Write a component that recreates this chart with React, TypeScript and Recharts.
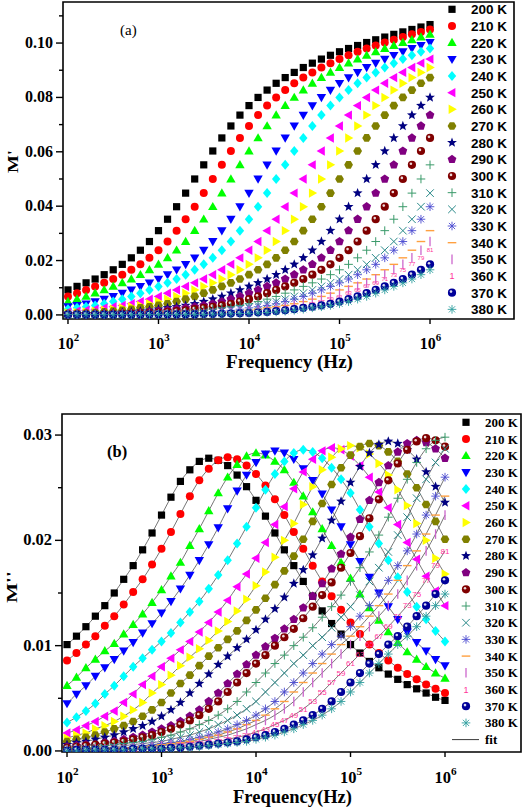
import React from 'react'
import { ComposedChart, Line, XAxis, YAxis, ReferenceArea } from 'recharts'

const SERIF = '"Liberation Serif", "Times New Roman", Times, serif'
const SANS = '"Liberation Sans", Arial, Helvetica, sans-serif'

// frequency grid in Hz, 10 points per decade
const freq = [
  100, 125.9, 158.5, 199.5, 251.2, 316.2, 398.1, 501.2, 631, 794.3,
  1000, 1259, 1585, 1995, 2512, 3162, 3981, 5012, 6310, 7943,
  10000, 12589, 15849, 19953, 25119, 31623, 39811, 50119, 63096, 79433,
  100000, 125893, 158489, 199526, 251189, 316228, 398107, 501187, 630957, 794328,
  1000000,
]

const temps = [
  '200 K', '210 K', '220 K', '230 K', '240 K', '250 K', '260 K', '270 K', '280 K', '290 K',
  '300 K', '310 K', '320 K', '330 K', '340 K', '350 K', '360 K', '370 K', '380 K',
]

const decadeTicks = [1e2, 1e3, 1e4, 1e5, 1e6]
const yTicksA = [0, 0.01, 0.02, 0.03, 0.04, 0.05, 0.06, 0.07, 0.08, 0.09, 0.1, 0.11]
const yTicksB = [0, 0.005, 0.01, 0.015, 0.02, 0.025, 0.03]

// (a) M'
const mr200 = [0.0092, 0.0105, 0.0118, 0.0132, 0.0148, 0.0166, 0.0186, 0.021, 0.0238, 0.027, 0.031, 0.0352, 0.0398, 0.0448, 0.05, 0.0552, 0.0603, 0.0651, 0.0695, 0.0735, 0.077, 0.08, 0.0827, 0.0852, 0.0873, 0.0892, 0.091, 0.0926, 0.0941, 0.0955, 0.0968, 0.098, 0.0991, 0.1002, 0.1012, 0.1022, 0.1032, 0.1041, 0.105, 0.1059, 0.1068]
const mr210 = [0.0068, 0.008, 0.0092, 0.0105, 0.0118, 0.0132, 0.0148, 0.0166, 0.0186, 0.021, 0.0238, 0.027, 0.031, 0.0352, 0.0398, 0.0448, 0.05, 0.0552, 0.0603, 0.0651, 0.0695, 0.0735, 0.077, 0.08, 0.0827, 0.0852, 0.0873, 0.0892, 0.091, 0.0926, 0.0941, 0.0955, 0.0968, 0.098, 0.0991, 0.1002, 0.1012, 0.1022, 0.1032, 0.1041, 0.105]
const mr220 = [0.0049, 0.0058, 0.0068, 0.008, 0.0092, 0.0105, 0.0118, 0.0132, 0.0148, 0.0166, 0.0186, 0.021, 0.0238, 0.027, 0.031, 0.0352, 0.0398, 0.0448, 0.05, 0.0552, 0.0603, 0.0651, 0.0695, 0.0735, 0.077, 0.08, 0.0827, 0.0852, 0.0873, 0.0892, 0.091, 0.0926, 0.0941, 0.0955, 0.0968, 0.098, 0.0991, 0.1002, 0.1012, 0.1022, 0.1032]
const mr230 = [0.003, 0.0035, 0.0041, 0.0049, 0.0058, 0.0068, 0.008, 0.0092, 0.0105, 0.0118, 0.0132, 0.0148, 0.0166, 0.0186, 0.021, 0.0238, 0.027, 0.031, 0.0352, 0.0398, 0.0448, 0.05, 0.0552, 0.0603, 0.0651, 0.0695, 0.0735, 0.077, 0.08, 0.0827, 0.0852, 0.0873, 0.0892, 0.091, 0.0926, 0.0941, 0.0955, 0.0968, 0.098, 0.0991, 0.1002]
const mr240 = [0.0021, 0.0026, 0.003, 0.0035, 0.0041, 0.0049, 0.0058, 0.0068, 0.008, 0.0092, 0.0105, 0.0118, 0.0132, 0.0148, 0.0166, 0.0186, 0.021, 0.0238, 0.027, 0.031, 0.0352, 0.0398, 0.0448, 0.05, 0.0552, 0.0603, 0.0651, 0.0695, 0.0735, 0.077, 0.08, 0.0827, 0.0852, 0.0873, 0.0892, 0.091, 0.0926, 0.0941, 0.0955, 0.0968, 0.098]
const mr250 = [0.0011, 0.0014, 0.0017, 0.0021, 0.0026, 0.003, 0.0035, 0.0041, 0.0049, 0.0058, 0.0068, 0.008, 0.0092, 0.0105, 0.0118, 0.0132, 0.0148, 0.0166, 0.0186, 0.021, 0.0238, 0.027, 0.031, 0.0352, 0.0398, 0.0448, 0.05, 0.0552, 0.0603, 0.0651, 0.0695, 0.0735, 0.077, 0.08, 0.0827, 0.0852, 0.0873, 0.0892, 0.091, 0.0926, 0.0941]
const mr260 = [0.0007, 0.0009, 0.0011, 0.0014, 0.0017, 0.0021, 0.0026, 0.003, 0.0035, 0.0041, 0.0049, 0.0058, 0.0068, 0.008, 0.0092, 0.0105, 0.0118, 0.0132, 0.0148, 0.0166, 0.0186, 0.021, 0.0238, 0.027, 0.031, 0.0352, 0.0398, 0.0448, 0.05, 0.0552, 0.0603, 0.0651, 0.0695, 0.0735, 0.077, 0.08, 0.0827, 0.0852, 0.0873, 0.0892, 0.091]
const mr270 = [0.0005, 0.0006, 0.0007, 0.0009, 0.0011, 0.0014, 0.0017, 0.0021, 0.0026, 0.003, 0.0035, 0.0041, 0.0049, 0.0058, 0.0068, 0.008, 0.0092, 0.0105, 0.0118, 0.0132, 0.0148, 0.0166, 0.0186, 0.021, 0.0238, 0.027, 0.031, 0.0352, 0.0398, 0.0448, 0.05, 0.0552, 0.0603, 0.0651, 0.0695, 0.0735, 0.077, 0.08, 0.0827, 0.0852, 0.0873]
const mr280 = [0.0003, 0.0003, 0.0004, 0.0005, 0.0006, 0.0007, 0.0009, 0.0011, 0.0014, 0.0017, 0.0021, 0.0026, 0.003, 0.0035, 0.0041, 0.0049, 0.0058, 0.0068, 0.008, 0.0092, 0.0105, 0.0118, 0.0132, 0.0148, 0.0166, 0.0186, 0.021, 0.0238, 0.027, 0.031, 0.0352, 0.0398, 0.0448, 0.05, 0.0552, 0.0603, 0.0651, 0.0695, 0.0735, 0.077, 0.08]
const mr290 = [0.0002, 0.0002, 0.0003, 0.0003, 0.0004, 0.0005, 0.0006, 0.0007, 0.0009, 0.0011, 0.0014, 0.0017, 0.0021, 0.0026, 0.003, 0.0035, 0.0041, 0.0049, 0.0058, 0.0068, 0.008, 0.0092, 0.0105, 0.0118, 0.0132, 0.0148, 0.0166, 0.0186, 0.021, 0.0238, 0.027, 0.031, 0.0352, 0.0398, 0.0448, 0.05, 0.0552, 0.0603, 0.0651, 0.0695, 0.0735]
const mr300 = [0.0002, 0.0002, 0.0002, 0.0002, 0.0003, 0.0003, 0.0004, 0.0005, 0.0006, 0.0007, 0.0009, 0.0011, 0.0014, 0.0017, 0.0021, 0.0026, 0.003, 0.0035, 0.0041, 0.0049, 0.0058, 0.0068, 0.008, 0.0092, 0.0105, 0.0118, 0.0132, 0.0148, 0.0166, 0.0186, 0.021, 0.0238, 0.027, 0.031, 0.0352, 0.0398, 0.0448, 0.05, 0.0552, 0.0603, 0.0651]
const mr310 = [0.0002, 0.0002, 0.0002, 0.0002, 0.0002, 0.0002, 0.0003, 0.0003, 0.0004, 0.0005, 0.0006, 0.0007, 0.0009, 0.0011, 0.0014, 0.0017, 0.0021, 0.0026, 0.003, 0.0035, 0.0041, 0.0049, 0.0058, 0.0068, 0.008, 0.0092, 0.0105, 0.0118, 0.0132, 0.0148, 0.0166, 0.0186, 0.021, 0.0238, 0.027, 0.031, 0.0352, 0.0398, 0.0448, 0.05, 0.0552]
const mr320 = [0.0001, 0.0001, 0.0002, 0.0002, 0.0002, 0.0002, 0.0002, 0.0002, 0.0003, 0.0003, 0.0004, 0.0005, 0.0006, 0.0007, 0.0009, 0.0011, 0.0014, 0.0017, 0.0021, 0.0026, 0.003, 0.0035, 0.0041, 0.0049, 0.0058, 0.0068, 0.008, 0.0092, 0.0105, 0.0118, 0.0132, 0.0148, 0.0166, 0.0186, 0.021, 0.0238, 0.027, 0.031, 0.0352, 0.0398, 0.0448]
const mr330 = [0.0001, 0.0001, 0.0001, 0.0002, 0.0002, 0.0002, 0.0002, 0.0002, 0.0002, 0.0003, 0.0003, 0.0004, 0.0005, 0.0006, 0.0007, 0.0009, 0.0011, 0.0014, 0.0017, 0.0021, 0.0026, 0.003, 0.0035, 0.0041, 0.0049, 0.0058, 0.0068, 0.008, 0.0092, 0.0105, 0.0118, 0.0132, 0.0148, 0.0166, 0.0186, 0.021, 0.0238, 0.027, 0.031, 0.0352, 0.0398]
const mr340 = [0.0001, 0.0001, 0.0001, 0.0001, 0.0001, 0.0002, 0.0002, 0.0002, 0.0002, 0.0002, 0.0002, 0.0003, 0.0003, 0.0004, 0.0005, 0.0006, 0.0007, 0.0009, 0.0011, 0.0014, 0.0017, 0.0021, 0.0026, 0.003, 0.0035, 0.0041, 0.0049, 0.0058, 0.0068, 0.008, 0.0092, 0.0105, 0.0118, 0.0132, 0.0148, 0.0166, 0.0186, 0.021, 0.0238, 0.027, 0.031]
const mr350 = [0.0001, 0.0001, 0.0001, 0.0001, 0.0001, 0.0001, 0.0002, 0.0002, 0.0002, 0.0002, 0.0002, 0.0002, 0.0003, 0.0003, 0.0004, 0.0005, 0.0006, 0.0007, 0.0009, 0.0011, 0.0014, 0.0017, 0.0021, 0.0026, 0.003, 0.0035, 0.0041, 0.0049, 0.0058, 0.0068, 0.008, 0.0092, 0.0105, 0.0118, 0.0132, 0.0148, 0.0166, 0.0186, 0.021, 0.0238, 0.027]
const mr360 = [0.0001, 0.0001, 0.0001, 0.0001, 0.0001, 0.0001, 0.0001, 0.0002, 0.0002, 0.0002, 0.0002, 0.0002, 0.0002, 0.0003, 0.0003, 0.0004, 0.0005, 0.0006, 0.0007, 0.0009, 0.0011, 0.0014, 0.0017, 0.0021, 0.0026, 0.003, 0.0035, 0.0041, 0.0049, 0.0058, 0.0068, 0.008, 0.0092, 0.0105, 0.0118, 0.0132, 0.0148, 0.0166, 0.0186, 0.021, 0.0238]
const mr370 = [0.0001, 0.0001, 0.0001, 0.0001, 0.0001, 0.0001, 0.0001, 0.0001, 0.0001, 0.0002, 0.0002, 0.0002, 0.0002, 0.0002, 0.0002, 0.0003, 0.0003, 0.0004, 0.0005, 0.0006, 0.0007, 0.0009, 0.0011, 0.0014, 0.0017, 0.0021, 0.0026, 0.003, 0.0035, 0.0041, 0.0049, 0.0058, 0.0068, 0.008, 0.0092, 0.0105, 0.0118, 0.0132, 0.0148, 0.0166, 0.0186]
const mr380 = [0.0001, 0.0001, 0.0001, 0.0001, 0.0001, 0.0001, 0.0001, 0.0001, 0.0001, 0.0001, 0.0002, 0.0002, 0.0002, 0.0002, 0.0002, 0.0002, 0.0003, 0.0003, 0.0004, 0.0005, 0.0006, 0.0007, 0.0009, 0.0011, 0.0014, 0.0017, 0.0021, 0.0026, 0.003, 0.0035, 0.0041, 0.0049, 0.0058, 0.0068, 0.008, 0.0092, 0.0105, 0.0118, 0.0132, 0.0148, 0.0166]

// (b) M''
const mi200 = [0.0101, 0.0109, 0.0118, 0.0128, 0.0138, 0.015, 0.0163, 0.0176, 0.0191, 0.0207, 0.0224, 0.0241, 0.0256, 0.0267, 0.0275, 0.0278, 0.0276, 0.0271, 0.0262, 0.0251, 0.0238, 0.0223, 0.0207, 0.0191, 0.0176, 0.0161, 0.0147, 0.0133, 0.0121, 0.0111, 0.0101, 0.0093, 0.0085, 0.0079, 0.0073, 0.0068, 0.0063, 0.0059, 0.0055, 0.0051, 0.0048]
const mi210 = [0.0086, 0.0093, 0.0101, 0.0109, 0.0119, 0.0128, 0.0139, 0.0151, 0.0163, 0.0177, 0.0192, 0.0208, 0.0225, 0.0242, 0.0257, 0.0268, 0.0276, 0.0279, 0.0277, 0.0271, 0.0263, 0.0252, 0.0239, 0.0224, 0.0208, 0.0192, 0.0176, 0.0161, 0.0147, 0.0134, 0.0122, 0.0111, 0.0101, 0.0093, 0.0086, 0.0079, 0.0073, 0.0068, 0.0063, 0.0059, 0.0055]
const mi220 = [0.0062, 0.007, 0.0079, 0.0087, 0.0095, 0.0102, 0.0111, 0.012, 0.013, 0.0141, 0.0153, 0.0166, 0.0179, 0.0195, 0.0211, 0.0228, 0.0245, 0.026, 0.0272, 0.028, 0.0283, 0.0281, 0.0275, 0.0267, 0.0255, 0.0242, 0.0227, 0.0211, 0.0195, 0.0179, 0.0164, 0.0149, 0.0136, 0.0124, 0.0113, 0.0103, 0.0094, 0.0087, 0.008, 0.0074, 0.0069]
const mi230 = [0.0045, 0.0054, 0.0062, 0.0071, 0.0079, 0.0087, 0.0095, 0.0103, 0.0112, 0.0121, 0.0131, 0.0142, 0.0154, 0.0167, 0.0181, 0.0196, 0.0212, 0.023, 0.0247, 0.0262, 0.0274, 0.0282, 0.0285, 0.0283, 0.0277, 0.0268, 0.0257, 0.0244, 0.0229, 0.0213, 0.0196, 0.018, 0.0165, 0.015, 0.0137, 0.0125, 0.0113, 0.0103, 0.0095, 0.0087, 0.0081]
const mi240 = [0.0027, 0.0032, 0.0038, 0.0045, 0.0054, 0.0062, 0.0071, 0.008, 0.0088, 0.0096, 0.0104, 0.0112, 0.0122, 0.0132, 0.0142, 0.0154, 0.0167, 0.0181, 0.0197, 0.0213, 0.0231, 0.0248, 0.0263, 0.0275, 0.0283, 0.0286, 0.0284, 0.0278, 0.0269, 0.0258, 0.0245, 0.0229, 0.0213, 0.0197, 0.0181, 0.0165, 0.0151, 0.0137, 0.0125, 0.0114, 0.0104]
const mi250 = [0.0017, 0.002, 0.0024, 0.0028, 0.0033, 0.0038, 0.0046, 0.0054, 0.0063, 0.0071, 0.008, 0.0088, 0.0096, 0.0104, 0.0113, 0.0122, 0.0132, 0.0143, 0.0156, 0.0168, 0.0183, 0.0198, 0.0215, 0.0232, 0.0249, 0.0265, 0.0277, 0.0285, 0.0288, 0.0286, 0.028, 0.0271, 0.026, 0.0246, 0.0231, 0.0215, 0.0198, 0.0182, 0.0166, 0.0152, 0.0138]
const mi260 = [0.0012, 0.0015, 0.0017, 0.0021, 0.0024, 0.0028, 0.0033, 0.0039, 0.0046, 0.0055, 0.0063, 0.0072, 0.0081, 0.0089, 0.0097, 0.0105, 0.0114, 0.0123, 0.0133, 0.0144, 0.0157, 0.017, 0.0184, 0.02, 0.0216, 0.0234, 0.0251, 0.0267, 0.0279, 0.0287, 0.029, 0.0288, 0.0282, 0.0273, 0.0262, 0.0248, 0.0233, 0.0216, 0.02, 0.0183, 0.0168]
const mi270 = [0.0009, 0.0011, 0.0013, 0.0015, 0.0018, 0.0021, 0.0024, 0.0028, 0.0033, 0.0039, 0.0046, 0.0055, 0.0064, 0.0072, 0.0081, 0.009, 0.0098, 0.0106, 0.0114, 0.0124, 0.0134, 0.0145, 0.0158, 0.0171, 0.0185, 0.0201, 0.0218, 0.0235, 0.0253, 0.0269, 0.0281, 0.0289, 0.0292, 0.029, 0.0284, 0.0275, 0.0263, 0.025, 0.0234, 0.0218, 0.0201]
const mi280 = [0.0006, 0.0008, 0.0009, 0.0011, 0.0013, 0.0015, 0.0018, 0.0021, 0.0024, 0.0028, 0.0033, 0.0039, 0.0046, 0.0055, 0.0064, 0.0073, 0.0082, 0.009, 0.0098, 0.0106, 0.0115, 0.0125, 0.0135, 0.0146, 0.0159, 0.0172, 0.0186, 0.0202, 0.0219, 0.0237, 0.0255, 0.027, 0.0283, 0.0291, 0.0294, 0.0292, 0.0286, 0.0277, 0.0265, 0.0251, 0.0236]
const mi290 = [0.0004, 0.0005, 0.0006, 0.0006, 0.0008, 0.0009, 0.0011, 0.0013, 0.0015, 0.0018, 0.0021, 0.0024, 0.0028, 0.0033, 0.0039, 0.0047, 0.0055, 0.0064, 0.0073, 0.0082, 0.0091, 0.0099, 0.0107, 0.0116, 0.0125, 0.0136, 0.0147, 0.0159, 0.0173, 0.0187, 0.0203, 0.022, 0.0238, 0.0255, 0.0271, 0.0284, 0.0292, 0.0295, 0.0293, 0.0287, 0.0278]
const mi300 = [0.0003, 0.0004, 0.0005, 0.0006, 0.0007, 0.0008, 0.0009, 0.0011, 0.0013, 0.0015, 0.0018, 0.0021, 0.0025, 0.0029, 0.0034, 0.004, 0.0047, 0.0056, 0.0065, 0.0074, 0.0083, 0.0091, 0.01, 0.0108, 0.0116, 0.0126, 0.0137, 0.0148, 0.016, 0.0174, 0.0188, 0.0204, 0.0221, 0.0239, 0.0257, 0.0273, 0.0286, 0.0294, 0.0297, 0.0295, 0.0289]
const mi310 = [0.0002, 0.0003, 0.0003, 0.0004, 0.0005, 0.0006, 0.0007, 0.0008, 0.0009, 0.0011, 0.0013, 0.0015, 0.0018, 0.0021, 0.0025, 0.0029, 0.0034, 0.004, 0.0047, 0.0056, 0.0065, 0.0074, 0.0083, 0.0091, 0.01, 0.0108, 0.0117, 0.0127, 0.0137, 0.0148, 0.0161, 0.0174, 0.0189, 0.0205, 0.0222, 0.024, 0.0258, 0.0274, 0.0287, 0.0295, 0.0298]
const mi320 = [0.0002, 0.0002, 0.0002, 0.0003, 0.0003, 0.0004, 0.0005, 0.0006, 0.0007, 0.0008, 0.0009, 0.0011, 0.0013, 0.0015, 0.0018, 0.0021, 0.0025, 0.0029, 0.0034, 0.004, 0.0047, 0.0056, 0.0065, 0.0074, 0.0083, 0.0091, 0.01, 0.0108, 0.0117, 0.0127, 0.0137, 0.0148, 0.0161, 0.0174, 0.0189, 0.0205, 0.0222, 0.024, 0.0258, 0.0274, 0.0287]
const mi330 = [0.0001, 0.0002, 0.0002, 0.0002, 0.0002, 0.0003, 0.0003, 0.0004, 0.0005, 0.0006, 0.0007, 0.0008, 0.0009, 0.0011, 0.0013, 0.0015, 0.0018, 0.0021, 0.0025, 0.0029, 0.0034, 0.004, 0.0047, 0.0056, 0.0065, 0.0074, 0.0083, 0.0092, 0.0101, 0.0109, 0.0118, 0.0128, 0.0138, 0.0149, 0.0162, 0.0176, 0.019, 0.0206, 0.0224, 0.0242, 0.026]
const mi340 = [0.0001, 0.0001, 0.0002, 0.0002, 0.0002, 0.0002, 0.0003, 0.0003, 0.0004, 0.0005, 0.0006, 0.0007, 0.0008, 0.0009, 0.0011, 0.0013, 0.0015, 0.0018, 0.0021, 0.0025, 0.0029, 0.0034, 0.004, 0.0047, 0.0056, 0.0065, 0.0074, 0.0083, 0.0092, 0.0101, 0.0109, 0.0118, 0.0128, 0.0138, 0.0149, 0.0162, 0.0176, 0.019, 0.0206, 0.0224, 0.0242]
const mi350 = [0.0001, 0.0001, 0.0001, 0.0002, 0.0002, 0.0002, 0.0002, 0.0003, 0.0003, 0.0004, 0.0005, 0.0006, 0.0007, 0.0008, 0.0009, 0.0011, 0.0013, 0.0015, 0.0018, 0.0021, 0.0025, 0.0029, 0.0034, 0.004, 0.0047, 0.0056, 0.0065, 0.0074, 0.0083, 0.0092, 0.0101, 0.0109, 0.0118, 0.0128, 0.0138, 0.0149, 0.0162, 0.0176, 0.019, 0.0206, 0.0224]
const mi360 = [0.0001, 0.0001, 0.0001, 0.0001, 0.0001, 0.0002, 0.0002, 0.0002, 0.0002, 0.0003, 0.0003, 0.0004, 0.0005, 0.0006, 0.0007, 0.0008, 0.0009, 0.0011, 0.0013, 0.0015, 0.0018, 0.0021, 0.0025, 0.0029, 0.0034, 0.004, 0.0047, 0.0056, 0.0065, 0.0074, 0.0083, 0.0092, 0.0101, 0.0109, 0.0118, 0.0128, 0.0138, 0.0149, 0.0162, 0.0176, 0.019]
const mi370 = [0, 0.0001, 0.0001, 0.0001, 0.0001, 0.0001, 0.0001, 0.0002, 0.0002, 0.0002, 0.0002, 0.0003, 0.0003, 0.0004, 0.0005, 0.0006, 0.0007, 0.0008, 0.0009, 0.0011, 0.0013, 0.0015, 0.0018, 0.0021, 0.0025, 0.0029, 0.0034, 0.004, 0.0047, 0.0056, 0.0065, 0.0074, 0.0083, 0.0092, 0.0101, 0.0109, 0.0118, 0.0128, 0.0138, 0.0149, 0.0162]
const mi380 = [0, 0, 0.0001, 0.0001, 0.0001, 0.0001, 0.0001, 0.0001, 0.0002, 0.0002, 0.0002, 0.0002, 0.0003, 0.0003, 0.0004, 0.0005, 0.0006, 0.0007, 0.0008, 0.0009, 0.0011, 0.0013, 0.0015, 0.0018, 0.0021, 0.0025, 0.0029, 0.0034, 0.004, 0.0047, 0.0056, 0.0065, 0.0074, 0.0083, 0.0092, 0.0101, 0.0109, 0.0118, 0.0128, 0.0138, 0.0149]

const realSets = [mr200, mr210, mr220, mr230, mr240, mr250, mr260, mr270, mr280, mr290, mr300, mr310, mr320, mr330, mr340, mr350, mr360, mr370, mr380]
const imagSets = [mi200, mi210, mi220, mi230, mi240, mi250, mi260, mi270, mi280, mi290, mi300, mi310, mi320, mi330, mi340, mi350, mi360, mi370, mi380]

type Kind =
  | 'square' | 'circle' | 'up' | 'down' | 'diamond' | 'left' | 'right' | 'hex' | 'star' | 'pent'
  | 'ball' | 'plus' | 'cross' | 'aster' | 'dash' | 'bar' | 'num'

const markers: { kind: Kind; color: string }[] = [
  { kind: 'square', color: '#000000' },
  { kind: 'circle', color: '#ff0000' },
  { kind: 'up', color: '#00ff00' },
  { kind: 'down', color: '#0000ff' },
  { kind: 'diamond', color: '#00ffff' },
  { kind: 'left', color: '#ff00ff' },
  { kind: 'right', color: '#ffff00' },
  { kind: 'hex', color: '#808000' },
  { kind: 'star', color: '#000080' },
  { kind: 'pent', color: '#800080' },
  { kind: 'ball', color: '#800000' },
  { kind: 'plus', color: '#3a9a6a' },
  { kind: 'cross', color: '#2a8a8a' },
  { kind: 'aster', color: '#4a4ad0' },
  { kind: 'dash', color: '#ffa040' },
  { kind: 'bar', color: '#cc66cc' },
  { kind: 'num', color: '#ff3399' },
  { kind: 'ball', color: '#000099' },
  { kind: 'aster', color: '#2f9f9f' },
]

function ngon(cx: number, cy: number, r: number, n: number, rot = -90, inner = 0) {
  const count = inner ? n * 2 : n
  const pts: string[] = []
  for (let i = 0; i < count; i++) {
    const rr = inner && i % 2 ? inner : r
    const a = ((rot + (360 / count) * i) * Math.PI) / 180
    pts.push(`${(cx + rr * Math.cos(a)).toFixed(2)},${(cy + rr * Math.sin(a)).toFixed(2)}`)
  }
  return pts.join(' ')
}

function Marker({ cx, cy, kind, color, label, numSize = 8 }: {
  cx?: number; cy?: number; kind: Kind; color: string; label?: string; numSize?: number
}) {
  if (cx == null || cy == null || isNaN(cx) || isNaN(cy)) return null
  switch (kind) {
    case 'square':
      return <rect x={cx - 3.6} y={cy - 3.6} width={7.2} height={7.2} fill={color} />
    case 'circle':
      return <circle cx={cx} cy={cy} r={4} fill={color} />
    case 'up':
      return <polygon points={`${cx},${cy - 4.8} ${cx + 4.7},${cy + 3.4} ${cx - 4.7},${cy + 3.4}`} fill={color} />
    case 'down':
      return <polygon points={`${cx},${cy + 4.8} ${cx + 4.7},${cy - 3.4} ${cx - 4.7},${cy - 3.4}`} fill={color} />
    case 'diamond':
      return <polygon points={`${cx},${cy - 5} ${cx + 4.2},${cy} ${cx},${cy + 5} ${cx - 4.2},${cy}`} fill={color} />
    case 'left':
      return <polygon points={`${cx - 4.8},${cy} ${cx + 3.4},${cy - 4.7} ${cx + 3.4},${cy + 4.7}`} fill={color} />
    case 'right':
      return <polygon points={`${cx + 4.8},${cy} ${cx - 3.4},${cy - 4.7} ${cx - 3.4},${cy + 4.7}`} fill={color} />
    case 'hex':
      return <polygon points={ngon(cx, cy, 4.4, 6, 0)} fill={color} />
    case 'star':
      return <polygon points={ngon(cx, cy, 5.2, 5, -90, 2.2)} fill={color} />
    case 'pent':
      return <polygon points={ngon(cx, cy, 4.6, 5, -90)} fill={color} />
    case 'ball':
      return (
        <g>
          <circle cx={cx} cy={cy} r={4.1} fill={color} />
          <circle cx={cx - 1} cy={cy - 1.1} r={1.3} fill="#ffffff" opacity={0.85} />
        </g>
      )
    case 'plus':
      return <path d={`M${cx - 4.3},${cy}H${cx + 4.3}M${cx},${cy - 4.3}V${cy + 4.3}`} stroke={color} strokeWidth={1} fill="none" />
    case 'cross':
      return <path d={`M${cx - 3.8},${cy - 3.8}L${cx + 3.8},${cy + 3.8}M${cx - 3.8},${cy + 3.8}L${cx + 3.8},${cy - 3.8}`} stroke={color} strokeWidth={1} fill="none" />
    case 'aster':
      return <path d={`M${cx - 4.3},${cy}H${cx + 4.3}M${cx},${cy - 4.3}V${cy + 4.3}M${cx - 3.1},${cy - 3.1}L${cx + 3.1},${cy + 3.1}M${cx - 3.1},${cy + 3.1}L${cx + 3.1},${cy - 3.1}`} stroke={color} strokeWidth={0.9} fill="none" />
    case 'dash':
      return <path d={`M${cx - 4.3},${cy}H${cx + 4.3}`} stroke={color} strokeWidth={1.4} fill="none" />
    case 'bar':
      return <path d={`M${cx},${cy - 4.8}V${cy + 4.8}`} stroke={color} strokeWidth={1.3} fill="none" />
    case 'num':
      return (
        <text x={cx} y={cy + numSize * 0.35} fontSize={numSize} fill={color} textAnchor="middle" fontFamily={SANS}>
          {label}
        </text>
      )
  }
  return null
}

function makeRows(sets: number[][]) {
  return freq.map((f, i) => {
    const row: Record<string, number> = { f }
    sets.forEach((s, k) => {
      row['s' + k] = s[i]
    })
    return row
  })
}

const rowsA = makeRows(realSets)
const rowsB = makeRows(imagSets)

function XTick({ x, payload, bottom, base, size }: any) {
  const exp = Math.round(Math.log10(payload.value))
  return (
    <g>
      <line x1={x} x2={x} y1={bottom} y2={bottom + 5} stroke="#000" strokeWidth={1.4} />
      <text x={x + 0.5} y={bottom + base} textAnchor="middle" fontFamily={SERIF} fontWeight="bold" fontSize={size} fill="#000">
        10
        <tspan dy={-8} fontSize={size * 0.68}>{exp}</tspan>
      </text>
    </g>
  )
}

function YTick({ y, payload, left, labelX, size, majorStep }: any) {
  const v = payload.value as number
  const major = Math.abs(v / majorStep - Math.round(v / majorStep)) < 1e-6
  return (
    <g>
      <line x1={left - (major ? 7 : 4)} x2={left} y1={y} y2={y} stroke="#000" strokeWidth={1.4} />
      {major && (
        <text x={labelX} y={y + 5} textAnchor="end" fontFamily={SERIF} fontWeight="bold" fontSize={size} fill="#000">
          {v.toFixed(2)}
        </text>
      )}
    </g>
  )
}

const xDomA: [number, number] = [88.1, 8.47e6]
const yDomA: [number, number] = [-0.0015, 0.1151]
const xDomB: [number, number] = [88.5, 6.37e6]
const yDomB: [number, number] = [-0.0001, 0.032]

function PanelA() {
  return (
    <ComposedChart width={524} height={380} data={rowsA} margin={{ top: 2, right: 10, bottom: 21, left: 13 }}>
      <XAxis
        dataKey="f"
        type="number"
        scale="log"
        domain={xDomA}
        allowDataOverflow
        ticks={decadeTicks}
        interval={0}
        height={40}
        axisLine={false}
        tickLine={false}
        tick={(p: any) => <XTick {...p} bottom={319} base={30} size={16} />}
      />
      <YAxis
        type="number"
        domain={yDomA}
        allowDataOverflow
        ticks={yTicksA}
        interval={0}
        width={50}
        axisLine={false}
        tickLine={false}
        tick={(p: any) => <YTick {...p} left={63} labelX={53} size={16} majorStep={0.02} />}
      />
      <ReferenceArea x1={xDomA[0]} x2={xDomA[1]} y1={yDomA[0]} y2={yDomA[1]} fill="none" stroke="#000" strokeWidth={1.6} ifOverflow="visible" />
      {realSets.map((_, k) => (
        <Line
          key={'a' + k}
          dataKey={'s' + k}
          stroke="none"
          isAnimationActive={false}
          activeDot={false}
          legendType="none"
          dot={(p: any) => (
            <g key={`a${k}-${p.index}`}>
              <Marker cx={p.cx} cy={p.cy} kind={markers[k].kind} color={markers[k].color} label={String(2 * p.index + 1)} numSize={6} />
            </g>
          )}
        />
      ))}
    </ComposedChart>
  )
}

function PanelB() {
  return (
    <ComposedChart width={524} height={419} data={rowsB} margin={{ top: 24, right: 3, bottom: 17, left: 12 }}>
      <XAxis
        dataKey="f"
        type="number"
        scale="log"
        domain={xDomB}
        allowDataOverflow
        ticks={decadeTicks}
        interval={0}
        height={40}
        axisLine={false}
        tickLine={false}
        tick={(p: any) => <XTick {...p} bottom={362} base={31} size={16.5} />}
      />
      <YAxis
        type="number"
        domain={yDomB}
        allowDataOverflow
        ticks={yTicksB}
        interval={0}
        width={50}
        axisLine={false}
        tickLine={false}
        tick={(p: any) => <YTick {...p} left={62} labelX={52} size={16.5} majorStep={0.01} />}
      />
      <ReferenceArea x1={xDomB[0]} x2={xDomB[1]} y1={yDomB[0]} y2={yDomB[1]} fill="none" stroke="#000" strokeWidth={1.6} ifOverflow="visible" />
      {imagSets.map((_, k) => (
        <Line
          key={'b' + k}
          dataKey={'s' + k}
          stroke="none"
          isAnimationActive={false}
          activeDot={false}
          legendType="none"
          dot={(p: any) => (
            <g key={`b${k}-${p.index}`}>
              <Marker cx={p.cx} cy={p.cy} kind={markers[k].kind} color={markers[k].color} label={String(2 * p.index + 1)} numSize={8} />
            </g>
          )}
        />
      ))}
      {imagSets.map((_, k) => (
        <Line
          key={'fit' + k}
          dataKey={'s' + k}
          type="monotone"
          stroke="#3a3a3a"
          strokeWidth={0.7}
          dot={false}
          activeDot={false}
          isAnimationActive={false}
          legendType="none"
        />
      ))}
    </ComposedChart>
  )
}

function Overlay() {
  return (
    <svg width={524} height={809} style={{ position: 'absolute', left: 0, top: 0, pointerEvents: 'none' }}>
      {/* panel (a) */}
      <text x={120} y={35} fontFamily={SERIF} fontSize={15} fill="#000">(a)</text>
      <text transform="translate(17.5,161.5) rotate(-90) scale(1,0.8)" textAnchor="middle" fontFamily={SERIF} fontWeight="bold" fontSize={19} fill="#000">M'</text>
      <text x={289.5} y={368} textAnchor="middle" fontFamily={SERIF} fontWeight="bold" fontSize={19} fill="#000">Frequency (Hz)</text>
      {temps.map((t, i) => {
        const y = 9.3 + i * 16.67
        return (
          <g key={'la' + t}>
            <Marker cx={452} cy={y} kind={markers[i].kind} color={markers[i].color} label="1" numSize={9} />
            <text x={471} y={y + 5} fontFamily={SANS} fontWeight="bold" fontSize={13.5} fill="#000">{t}</text>
          </g>
        )
      })}
      {/* panel (b) */}
      <text x={107} y={456.5} fontFamily={SERIF} fontWeight="bold" fontSize={16.5} fill="#000">(b)</text>
      <text transform="translate(17,587) rotate(-90) scale(1.05,0.7)" textAnchor="middle" fontFamily={SERIF} fontWeight="bold" fontSize={20} fill="#000">M''</text>
      <text x={292.5} y={803} textAnchor="middle" fontFamily={SERIF} fontWeight="bold" fontSize={18.5} fill="#000">Frequency(Hz)</text>
      {temps.map((t, i) => {
        const y = 422.3 + i * 16.7
        return (
          <g key={'lb' + t}>
            <Marker cx={466} cy={y} kind={markers[i].kind} color={markers[i].color} label="1" numSize={9} />
            <text x={485} y={y + 4.5} fontFamily={SERIF} fontWeight="bold" fontSize={13} fill="#000">{t}</text>
          </g>
        )
      })}
      <line x1={452} x2={479} y1={739.6} y2={739.6} stroke="#3a3a3a" strokeWidth={1} />
      <text x={485} y={744.1} fontFamily={SERIF} fontWeight="bold" fontSize={13} fill="#000">fit</text>
    </svg>
  )
}

export default function App() {
  return (
    <div style={{ position: 'absolute', left: 0, top: 0, width: 524, height: 809, background: '#fff', overflow: 'hidden' }}>
      <div style={{ position: 'absolute', left: 0, top: 0 }}>
        <PanelA />
      </div>
      <div style={{ position: 'absolute', left: 0, top: 390 }}>
        <PanelB />
      </div>
      <Overlay />
    </div>
  )
}
